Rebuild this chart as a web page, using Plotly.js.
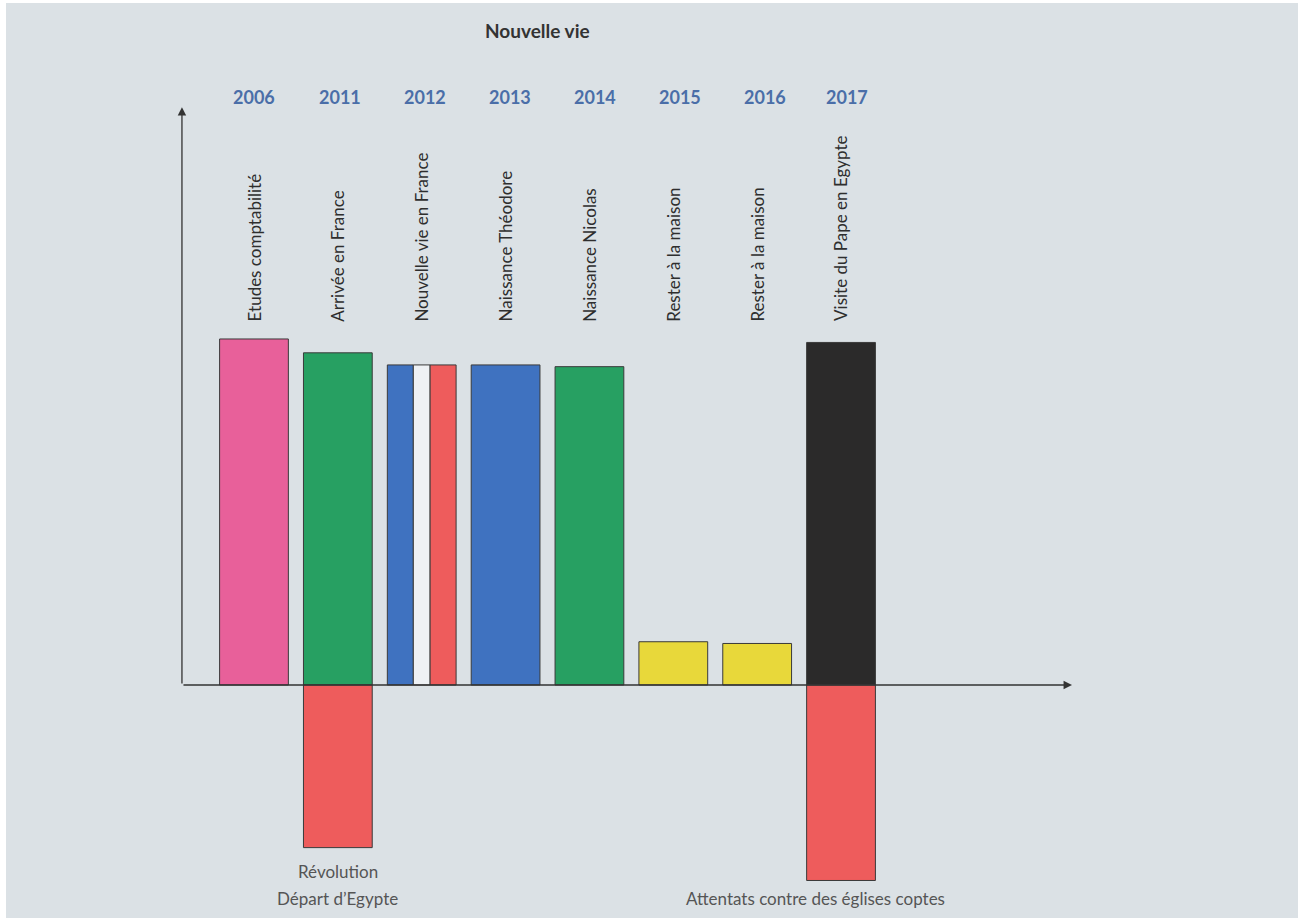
<!DOCTYPE html>
<html>
<head>
<meta charset="utf-8">
<script src="https://cdn.plot.ly/plotly-3.0.1.min.js"></script>
<style>html,body{margin:0;padding:0;background:#fff;}#chart{width:1307px;height:922px;}</style>
</head>
<body>
<div id="chart"></div>
<script>
// ---- data ----
const years = ['2006','2011','2012','2013','2014','2015','2016','2017'];
const events = ['Etudes comptabilité','Arrivée en France','Nouvelle vie en France','Naissance Théodore','Naissance Nicolas','Rester à la maison','Rester à la maison','Visite du Pape en Egypte'];
const posYears = ['2006','2011','2013','2014','2015','2016','2017'];
const posValues = [10.0, 9.6, 9.25, 9.2, 1.25, 1.2, 9.9];
const flagYear = ['2012'];
const flagValue = [9.25];
const negYears = ['2011','2017'];
const negValues = [-4.7, -5.65];
const negLabels = [['Révolution','Départ d’Egypte'], ['Attentats contre des églises coptes']];
const chartTitle = 'Nouvelle vie';

// ---- styles ----
const posColors = ['#e8609a','#27a062','#3f72c0','#27a062','#e8d83a','#e8d83a','#2b2a2a'];
const outline = {color:'#3a3a3a', width:1};
const barW = 0.82;
const fontFam = 'Lato, "Open Sans", sans-serif';
const yearShift = [0,2,3,4,6,7,8,6];
const idx = (yr) => years.indexOf(yr);

const traces = [
  {type:'bar', x:posYears, y:posValues, width:barW, marker:{color:posColors, line:outline}, hoverinfo:'x+y'},
  {type:'bar', x:flagYear, y:flagValue, width:0.31, offset:-0.41, marker:{color:'#3f72c0', line:outline}},
  {type:'bar', x:flagYear, y:flagValue, width:0.20, offset:-0.10, marker:{color:'#eef1f4', line:outline}},
  {type:'bar', x:flagYear, y:flagValue, width:0.31, offset:0.10, marker:{color:'#ee5c5c', line:outline}},
  {type:'bar', x:negYears, y:negValues, width:barW, marker:{color:'#ee5c5c', line:outline}}
];

const annotations = [];
annotations.push({xref:'paper', yref:'paper', x:0.411, y:0.970, yanchor:'middle', text:chartTitle, showarrow:false,
  font:{family:fontFam, size:19, color:'#333333', weight:'bold'}});
years.forEach((yr,i)=>{
  annotations.push({x:i, y:17.0, xref:'x', yref:'y', text:yr, showarrow:false, xshift:yearShift[i],
    font:{family:fontFam, size:18, color:'#4a6ea8', weight:'bold'}});
  annotations.push({x:i, y:10.45, xref:'x', yref:'y', text:events[i], showarrow:false, textangle:-90,
    yanchor:'bottom', font:{family:fontFam, size:17, color:'#2e2e2e'}});
});
// negative labels
annotations.push({x:idx(negYears[0]), y:-5.376, text:negLabels[0][0], showarrow:false, font:{family:fontFam, size:17, color:'#555555'}});
annotations.push({x:idx(negYears[0]), y:-6.156, text:negLabels[0][1], showarrow:false, font:{family:fontFam, size:17, color:'#555555'}});
annotations.push({x:idx(negYears[1]), y:-6.156, text:negLabels[1][0], showarrow:false, xshift:-26, font:{family:fontFam, size:17, color:'#555555'}});
// axes with arrows
annotations.push({x:-0.859, y:16.7, ax:-0.859, ay:0, xref:'x', yref:'y', axref:'x', ayref:'y', text:'', showarrow:true,
  arrowhead:2, arrowsize:1.3, arrowwidth:1.3, arrowcolor:'#333333'});
annotations.push({x:9.754, y:0, ax:-0.859, ay:0, xref:'x', yref:'y', axref:'x', ayref:'y', text:'', showarrow:true,
  arrowhead:2, arrowsize:1.3, arrowwidth:1.3, arrowcolor:'#333333'});

const layout = {
  width:1307, height:922,
  margin:{l:6, r:9, t:3, b:4},
  paper_bgcolor:'#ffffff', plot_bgcolor:'#dbe1e5',
  barmode:'overlay', showlegend:false,
  xaxis:{type:'category', categoryarray:years, categoryorder:'array', range:[-2.957, 12.449],
    showgrid:false, zeroline:false, showticklabels:false, ticks:'', showline:false, fixedrange:true},
  yaxis:{range:[-6.734, 19.71], showgrid:false, zeroline:false, showticklabels:false, ticks:'', showline:false, fixedrange:true},
  annotations:annotations
};
Plotly.newPlot('chart', traces, layout, {displayModeBar:false, staticPlot:true});
</script>
</body>
</html>
